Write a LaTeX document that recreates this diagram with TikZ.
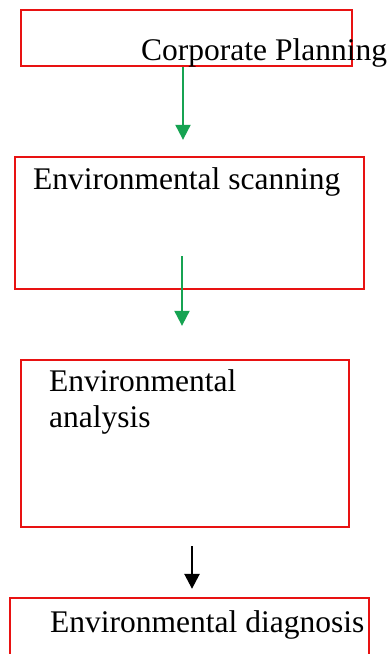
\documentclass[tikz,border=0pt]{standalone}
\usepackage{fontspec}
\setmainfont{Liberation Serif}
\usetikzlibrary{arrows.meta}
\definecolor{boxred}{RGB}{232,18,18}
\definecolor{flowgreen}{RGB}{22,163,82}
\begin{document}
\begin{tikzpicture}[x=1pt,y=-1pt,
    box/.style={draw=boxred, line width=2.3pt, inner sep=0pt},
    txt/.style={inner sep=0pt, anchor=base west, align=left,
      font=\fontsize{31.5}{36}\selectfont},
    flow/.style={draw=flowgreen, line width=2pt, -{Triangle[width=15pt,length=15pt]}}]
  \clip (0,0) rectangle (390,654);
  % boxes
  \node[box, minimum width=331pt, minimum height=56pt] (cp) at (186.5,38) {};
  \node[box, minimum width=349pt, minimum height=132pt] (es) at (189.5,223) {};
  \node[box, minimum width=328pt, minimum height=167pt] (ea) at (185,443.5) {};
  \node[box, minimum width=359pt, minimum height=84pt] (ed) at (189.5,640) {};
  % texts
  \node[txt] (cptext) at (141,60) {Corporate Planning};
  \node[txt] (estext) at (33,189) {Environmental scanning};
  \node[txt] (eatext) at (49,427) {Environmental\\analysis};
  \node[txt] (edtext) at (50,632) {Environmental diagnosis};
  % arrows
  \draw[flow, shorten >=16pt] ([xshift=-3.5pt]cp.south) -- ([xshift=-3.5pt]cp.south |- es.north);
  \draw[flow, shorten >=33pt] ([xshift=-7.5pt,yshift=34pt]es.south) -- ([xshift=-7.5pt]es.south |- ea.north);
  \draw[flow, draw=black, line width=2.5pt, -{Triangle[width=15pt,length=15pt]}, shorten >=8pt]
    ([xshift=7pt,yshift=-18pt]ea.south) -- ([xshift=7pt]ea.south |- ed.north);
\end{tikzpicture}
\end{document}
